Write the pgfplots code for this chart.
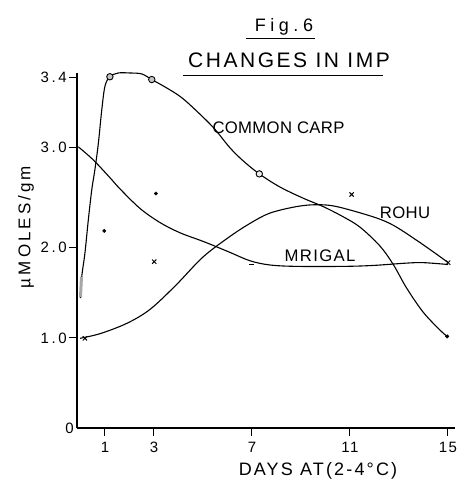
\documentclass[border=0pt]{standalone}
\usepackage{pgfplots}
\pgfplotsset{compat=1.18}
\usepackage{fontspec}
\setmainfont{Liberation Sans}
\newcommand{\fs}[2]{\fontsize{#1bp}{#1bp}\selectfont\addfontfeatures{LetterSpace=#2}}
\begin{document}
\begin{tikzpicture}
\path[use as bounding box] (0bp,0bp) rectangle (461bp,480bp);
\begin{axis}[
  at={(77bp,52bp)}, anchor=south west,
  scale only axis, width=378bp, height=355bp,
  xmin=-0.143, xmax=15.29, ymin=0, ymax=3.80,
  axis x line=bottom, axis y line=left,
  axis line style={-, line width=1.2bp},
  clip=false,
  tick align=outside,
  major tick length=8bp,
  tick style={line width=1bp, black},
  xtick={1,3,7,11,15}, xticklabels={1,3,7,11,15},
  ytick={0.965,1.93,3,3.75}, yticklabels={1.0,2.0,3.0,3.4},
  extra y ticks={0}, extra y tick labels={0},
  extra y tick style={major tick length=0pt, yticklabel style={xshift=-1bp}},
  xticklabel style={font=\fs{15}{10}, inner sep=1bp, yshift=-5bp},
  yticklabel style={font=\fs{15}{18}, inner sep=1bp, xshift=-1bp},
  every axis plot/.append style={black},
]
% Common carp
\addplot[smooth, tension=0.55, line width=1.1bp] coordinates {
 (0.00,1.39) (0.05,1.62) (0.18,1.87) (0.32,2.23) (0.46,2.55) (0.59,2.77)
 (0.73,3.05) (0.87,3.41) (1.00,3.66) (1.20,3.76) (1.54,3.80) (2.02,3.80)
 (2.50,3.79) (2.91,3.73) (3.52,3.64) (4.06,3.55) (4.55,3.44) (5.41,3.22)
 (6.10,3.00) (6.64,2.86) (7.30,2.72) (8.14,2.58) (9.09,2.46) (9.91,2.37)
 (10.73,2.26) (11.41,2.15) (12.22,1.95) (12.77,1.75) (13.31,1.50)
 (13.99,1.24) (14.67,1.05) (14.97,0.98)};
% Mrigal
\addplot[smooth, tension=0.55, line width=1.1bp] coordinates {
 (-0.09,3.01) (0.52,2.87) (1.20,2.68) (1.61,2.56) (2.43,2.35) (3.24,2.20)
 (4.06,2.09) (5.08,1.99) (6.10,1.88) (6.92,1.79) (7.73,1.745) (8.82,1.73)
 (10.73,1.73) (11.95,1.74) (13.31,1.765) (13.99,1.77) (15.01,1.75)};
% Rohu
\addplot[smooth, tension=0.55, line width=1.1bp] coordinates {
 (-0.02,0.96) (0.80,1.01) (1.89,1.12) (2.84,1.27) (3.90,1.53) (5.00,1.83)
 (6.10,2.05) (6.92,2.19) (7.73,2.30) (8.82,2.37) (9.64,2.39)
 (10.46,2.37) (11.95,2.26) (12.77,2.17) (13.72,2.01) (14.54,1.86) (15.01,1.77)};
% markers
\addplot[line width=3bp, gray!70] coordinates {(0.00,1.40) (0.04,1.62)};
\addplot[only marks, mark=*, mark size=3.2bp, mark options={fill=gray!45, draw=black, line width=0.9bp}]
  coordinates {(1.20,3.76) (2.91,3.73)};
\addplot[only marks, mark=*, mark size=3.2bp, mark options={fill=gray!15, draw=black, line width=0.9bp}]
  coordinates {(7.30,2.72)};
\addplot[only marks, mark=*, mark size=1.8bp] coordinates {(14.97,0.98)};
\addplot[only marks, mark=x, mark size=3bp, mark options={line width=1bp}]
  coordinates {(0.18,0.96) (3.01,1.78) (11.07,2.50) (15.01,1.77)};
\addplot[only marks, mark=*, mark size=1.7bp] coordinates {(0.97,2.11) (3.08,2.51)};
\addplot[only marks, mark=-, mark size=2.5bp, mark options={line width=1bp}] coordinates {(6.99,1.75)};
\end{axis}
% titles and labels
\node at (284bp,453.5bp) {\fs{18}{25}Fig.6};
\draw[line width=1bp] (246bp,441bp) -- (315bp,441bp);
\node at (289bp,419.5bp) {\fs{21}{12}CHANGES IN IMP};
\draw[line width=1bp] (183bp,404bp) -- (383bp,404bp);
\node at (278.5bp,352.5bp) {\fs{16.7}{2}COMMON CARP};
\node at (405bp,267.5bp) {\fs{16.7}{2}ROHU};
\node at (320bp,224bp) {\fs{16.7}{8}MRIGAL};
\node[rotate=90] at (26bp,253bp) {\fs{17}{18}µMOLES/gm};
\node at (318bp,9.5bp) {\fs{18}{12}DAYS AT(2-4°C)};
\end{tikzpicture}
\end{document}
